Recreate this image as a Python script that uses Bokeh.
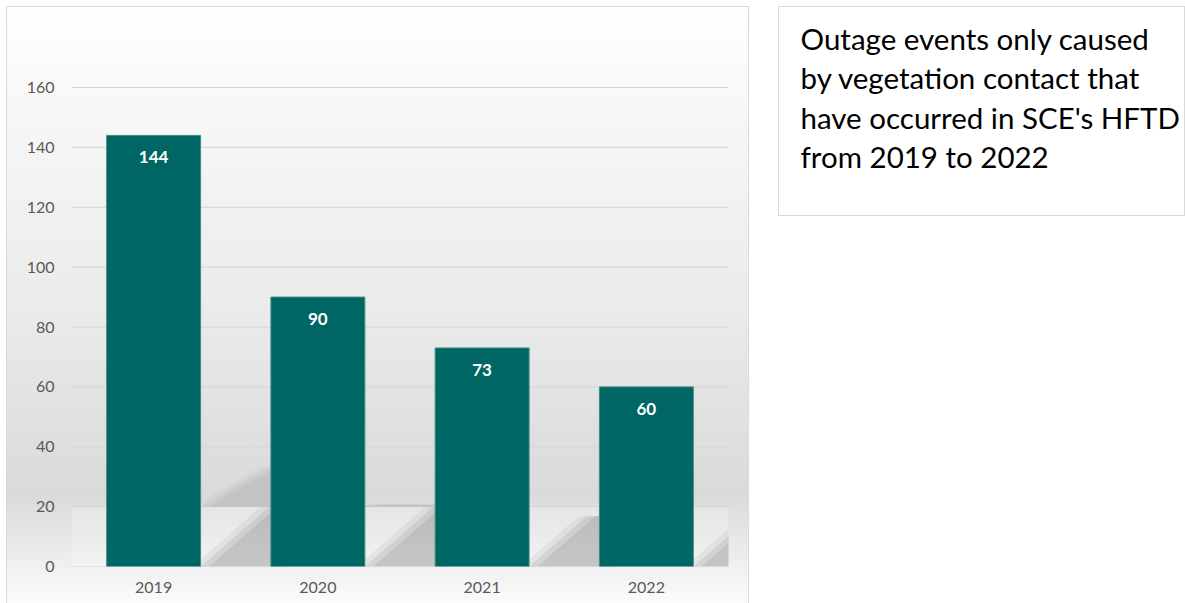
from bokeh.plotting import figure
from bokeh.models import ColumnDataSource, Range1d, FixedTicker, LabelSet, Label
from bokeh.embed import file_html
from bokeh.resources import INLINE
from bokeh.core.properties import value

# ---- data ----
years = ["2019", "2020", "2021", "2022"]
events = [144, 90, 73, 60]
y_ticks = [0, 20, 40, 60, 80, 100, 120, 140, 160]
note_lines = [
    "Outage events only caused",
    "by vegetation contact that",
    "have occurred in SCE's HFTD",
    "from 2019 to 2022",
]

# ---- style / layout constants ----
BAR_W = 0.572
FLOOR = 20           # level of the 3-D "floor" edge
SHADOW_K = 0.23      # shadow length relative to bar height
FLOOR_SLOPE = 0.021  # category units per value unit on the floor
WALL_SLOPE = 0.0315  # category units per value unit on the wall
FONT = "Lato"
CHART_FRAME_PX = 657     # width of the chart's plotting area
FULL_FRAME_PX = 1114     # frame continues under the note box
PX_PER_UNIT = 479 / 160
Y_MAX = 160 + 80 / PX_PER_UNIT
N = len(years)
X_END = N * FULL_FRAME_PX / CHART_FRAME_PX

xc = [i + 0.5 for i in range(N)]
src = ColumnDataSource(dict(x=xc, top=events, label=[str(v) for v in events]))

p = figure(width=1179, height=597, title=None,
           x_range=Range1d(0, X_END), y_range=Range1d(0, Y_MAX),
           output_backend="svg", toolbar_location=None,
           min_border_left=65, min_border_right=0,
           min_border_top=1, min_border_bottom=37,
           margin=(6, 0, 0, 6))

LINE = "linear-gradient(#d9d9d9,#d9d9d9)"
p.styles = {
    "background": ", ".join([
        # chart area border (top, left, right)
        f"{LINE} 0px 0px / 743px 1px no-repeat",
        f"{LINE} 0px 0px / 1px 100% no-repeat",
        f"{LINE} 742px 0px / 1px 100% no-repeat",
        # note box border
        f"{LINE} 772px 0px / 407px 1px no-repeat",
        f"{LINE} 772px 209px / 407px 1px no-repeat",
        f"{LINE} 772px 0px / 1px 210px no-repeat",
        f"{LINE} 1178px 0px / 1px 210px no-repeat",
        # chart area gradient
        "linear-gradient(to bottom, #ffffff 0%, #f8f8f8 15%, #ebebeb 50%, #dadada 82%, #e9e9e9 90%, #fbfbfb 100%) 0px 0px / 743px 100% no-repeat",
    ])
}
p.background_fill_color = None
p.border_fill_color = None
p.outline_line_color = None

# axes
p.xaxis.ticker = FixedTicker(ticks=xc)
p.xaxis.major_label_overrides = {x: y for x, y in zip(xc, years)}
p.yaxis.ticker = FixedTicker(ticks=y_ticks)
for ax in (p.xaxis[0], p.yaxis[0]):
    ax.axis_line_color = None
    ax.major_tick_line_color = None
    ax.minor_tick_line_color = None
    ax.major_tick_out = 0
    ax.major_tick_in = 0
    ax.minor_tick_out = 0
    ax.major_label_text_color = "#595959"
    ax.major_label_text_font = FONT
    ax.major_label_text_font_size = "16px"
p.yaxis.major_label_standoff = 17
p.xaxis.major_label_standoff = 15
p.grid.grid_line_color = None

# horizontal gridlines, limited to the chart's category span
p.segment(x0=[0] * len(y_ticks), x1=[N] * len(y_ticks), y0=y_ticks, y1=y_ticks,
          line_color="#d4d4d4", line_width=1)

# floor plane
p.quad(left=[0], right=[N], bottom=[0], top=[FLOOR],
       fill_color="white", fill_alpha=0.22, line_color=None)


def clip_right(xs, ys, xmax):
    """Clip a polygon to x <= xmax."""
    ox, oy = [], []
    n = len(xs)
    for i in range(n):
        x1, y1 = xs[i], ys[i]
        x2, y2 = xs[(i + 1) % n], ys[(i + 1) % n]
        in1, in2 = x1 <= xmax, x2 <= xmax
        if in1:
            ox.append(x1)
            oy.append(y1)
        if in1 != in2:
            t = (xmax - x1) / (x2 - x1)
            ox.append(xmax)
            oy.append(y1 + t * (y2 - y1))
    return ox, oy


# perspective shadows (soft: a few stacked layers)
for grow, a_floor, a_wall in [(0.05, 0.05, 0.03), (0.0, 0.07, 0.04), (-0.05, 0.07, 0.04)]:
    fxs, fys, wxs, wys = [], [], [], []
    for x, v in zip(xc, events):
        xr = x + BAR_W / 2
        s = v * SHADOW_K
        h1 = min(s, FLOOR)
        d1 = h1 * FLOOR_SLOPE
        a, b = clip_right([xr - grow, xr + d1 - grow, xr + d1 + 0.5, xr + 0.5], [0, h1, h1, 0], N)
        fxs.append(a)
        fys.append(b)
        if s > FLOOR:
            h2 = s - FLOOR
            d2 = h2 * WALL_SLOPE
            a, b = clip_right([xr - grow, xr + d2 - grow, xr + d2 + 0.5, xr + 0.5],
                              [FLOOR, FLOOR + h2, FLOOR + h2, FLOOR], N)
            wxs.append(a)
            wys.append(b)
    p.patches(xs=fxs, ys=fys, fill_color="black", fill_alpha=a_floor, line_color=None)
    if wxs:
        p.patches(xs=wxs, ys=wys, fill_color="black", fill_alpha=a_wall, line_color=None)

# bars
p.vbar(x="x", top="top", width=BAR_W, source=src,
       fill_color="#006663", line_color="#3f8c89", line_width=1)

labels = LabelSet(x="x", y="top", text="label", source=src, y_offset=-22,
                  text_align="center", text_baseline="middle",
                  text_color="white", text_font=value(FONT),
                  text_font_style="bold", text_font_size="17px")
p.add_layout(labels)

# ---- note text (inside the note box, right of the chart) ----
for i, line in enumerate(note_lines):
    p.add_layout(Label(x=N, y=Y_MAX, x_offset=72, y_offset=-(31 + 39.3 * i),
                       text=line, text_font=FONT, text_font_size="29.5px",
                       text_color="black", text_baseline="alphabetic",
                       text_align="left"))

open("out.html", "w").write(file_html(p, INLINE))
